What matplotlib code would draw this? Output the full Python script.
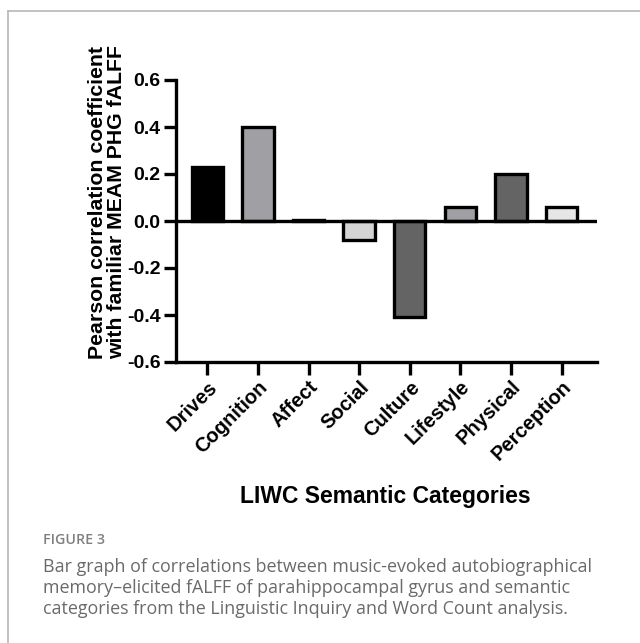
# LIWC カテゴリと fALFF の相関棒グラフ

import numpy as np
import matplotlib.pyplot as plt
from matplotlib.lines import Line2D

# データ
categories = ["Drives", "Cognition", "Affect", "Social", "Culture", "Lifestyle", "Physical", "Perception"]
correlations = [0.23, 0.40, 0.005, -0.08, -0.41, 0.06, 0.20, 0.06]
bar_colors = ["#000000", "#a0a0a4", "#000000", "#d4d4d4", "#646464", "#a0a0a4", "#646464", "#e6e6e6"]
y_ticks = [-0.6, -0.4, -0.2, 0.0, 0.2, 0.4, 0.6]

caption_head = "FIGURE 3"
caption_body = ("Bar graph of correlations between music-evoked autobiographical\n"
                "memory\u2013elicited fALFF of parahippocampal gyrus and semantic\n"
                "categories from the Linguistic Inquiry and Word Count analysis.")

W, H = 640, 643
LW = 2.4


def main():
    fig = plt.figure(figsize=(W / 100, H / 100), dpi=100)

    # 枠線 (上と左)
    fig.add_artist(Line2D([8 / W, 8 / W], [0, 1 - 11 / H], color="#b8b8b8", lw=1.2))
    fig.add_artist(Line2D([8 / W, 1], [1 - 11 / H, 1 - 11 / H], color="#b8b8b8", lw=1.2))

    ax = fig.add_axes([176 / W, 1 - 362 / H, (597 - 176) / W, (362 - 80) / H])
    x = np.arange(len(categories))
    ax.bar(x, correlations, width=0.62, color=bar_colors, edgecolor="black", linewidth=LW, zorder=3)
    ax.axhline(0, color="black", lw=LW, zorder=4)

    ax.set_xlim(-0.62, 7.7)
    ax.set_ylim(-0.6, 0.6)
    ax.set_yticks(y_ticks)
    ax.set_yticklabels([f"{v:.1f}" for v in y_ticks], fontsize=14, fontweight="bold",
                       family="Liberation Sans")
    ax.set_xticks(x)
    ax.set_xticklabels(categories, rotation=45, ha="right", rotation_mode="anchor",
                       fontsize=14.5, fontweight="bold", family="Liberation Sans")
    ax.tick_params(width=LW, length=9, pad=2)

    for s in ["top", "right"]:
        ax.spines[s].set_visible(False)
    for s in ["left", "bottom"]:
        ax.spines[s].set_linewidth(LW)

    # 軸ラベル
    fig.text(107 / W, 1 - 202 / H, "Pearson correlation coefficient\nwith familiar MEAM PHG fALFF",
             rotation=90, ha="center", va="center", fontsize=15.3, fontweight="bold",
             family="Liberation Sans", linespacing=1.0)
    fig.text(385 / W, 1 - 497 / H, "LIWC Semantic Categories", ha="center", va="center",
             fontsize=16.5, fontweight="bold", family="Liberation Sans")

    # キャプション
    fig.text(43 / W, 1 - 540 / H, caption_head, ha="left", va="center", fontsize=10.3,
             color="#808080", family="Open Sans", fontweight="semibold")
    fig.text(43 / W, 1 - 588 / H, caption_body, ha="left", va="center", fontsize=12.9,
             color="#6a6a6a", family="Open Sans", linespacing=1.22)

    plt.savefig("out.png", dpi=100)


if __name__ == "__main__":
    main()
